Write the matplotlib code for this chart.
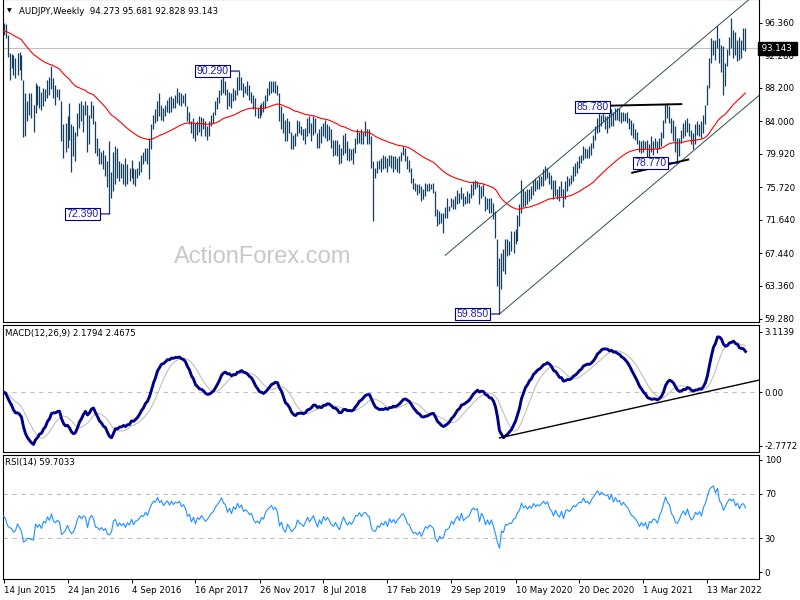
import numpy as np
import matplotlib
matplotlib.use("Agg")
import matplotlib.pyplot as plt
import matplotlib.transforms as mtransforms

# ---------------- data (weekly AUDJPY) ----------------
high = [
    96.3, 96.2, 94.8, 92.5, 92.4, 92.3, 91.9, 92.5, 92.7, 92.3,
    89.2, 87.5, 86.5, 87.5, 87.5, 86.1, 88.8, 88.6, 88.4, 87.7,
    88.2, 88.0, 89.2, 89.6, 90.9, 89.4, 88.6, 88.0, 88.0, 86.5,
    83.6, 83.8, 84.6, 86.3, 83.6, 83.4, 82.7, 85.0, 86.3, 86.5,
    86.1, 86.5, 86.1, 84.8, 86.5, 86.1, 84.0, 81.9, 80.7, 80.2,
    80.4, 79.8, 79.0, 81.5, 77.7, 80.2, 80.9, 80.7, 79.0, 78.8,
    78.6, 79.4, 78.6, 78.2, 79.2, 78.2, 78.0, 78.2, 79.0, 79.8,
    80.2, 80.7, 80.7, 81.9, 83.6,
    84.8, 85.5, 86.5, 87.5, 86.1, 85.7, 86.1, 86.7, 87.1, 87.2,
    86.9, 87.3, 88.2, 87.7, 87.5, 87.3, 87.5, 85.9, 85.2, 84.0,
    84.4, 83.8, 84.0, 84.6, 84.5, 84.4, 84.0, 83.4, 84.0, 84.8,
    85.2, 86.5, 87.1, 87.9, 89.3, 89.5, 89.0, 88.0, 87.7, 87.5,
    88.2, 87.9, 89.6, 90.29, 89.6, 88.8, 88.4, 89.0, 88.6, 87.7,
    87.3, 86.9, 85.7, 86.1, 86.3, 86.5, 87.3, 88.2, 89.0, 89.0,
    89.0, 89.0, 88.6, 87.5, 85.9, 85.0, 84.2, 84.4, 84.0, 82.7,
    82.3, 82.5, 84.2, 84.0, 83.4, 83.0,
    83.2, 84.4, 84.6, 83.8, 84.6, 84.4, 82.5, 83.0, 83.4, 83.8,
    84.2, 83.6, 83.4, 83.0, 81.7, 81.7, 81.7, 81.1, 80.7, 82.3,
    82.5, 81.5, 80.7, 80.5, 80.7, 81.9, 83.0, 82.7, 83.0, 82.7,
    84.0, 83.0, 83.0, 82.1, 79.0, 78.2, 79.0, 79.2, 79.4, 79.8,
    79.6, 79.4, 79.8, 79.8, 79.6, 79.6, 79.4, 79.6, 80.2, 80.9,
    80.7, 79.6, 79.2, 78.2, 76.9, 76.3, 76.1, 76.1, 75.9, 75.5,
    76.3, 76.1, 76.3, 76.1, 76.3, 75.2, 73.0, 72.7, 72.5, 72.5,
    73.2, 74.4, 73.4, 74.4, 74.2,
    74.6, 75.4, 75.0, 75.7, 75.0, 74.6, 75.2, 75.0, 76.1, 76.5,
    76.7, 76.5, 76.1, 75.9, 76.1, 74.6, 74.4, 74.4, 74.4, 73.8,
    72.7, 69.2, 66.9, 67.5, 68.0, 69.2, 69.2, 69.0, 70.2, 70.2,
    70.5, 72.3, 73.6, 76.7, 75.5, 75.2, 75.5, 75.5, 75.9, 76.7,
    76.9, 76.7, 77.1, 77.1, 78.0, 78.4, 78.2, 77.7, 77.3, 76.7,
    76.7, 75.5, 75.9, 76.5, 75.5, 76.5, 77.1, 76.9, 77.3, 78.4,
    78.8, 79.0, 79.6, 79.8, 80.9, 80.7, 80.5, 80.9, 81.3, 82.3,
    83.4, 84.4, 85.0, 84.8, 85.78, 84.6,
    84.7, 85.2, 85.5, 85.2, 85.6, 85.7, 85.7, 85.2, 85.2, 85.0,
    85.2, 84.4, 84.2, 83.8, 83.0, 82.7, 81.7, 81.5, 81.7, 81.5,
    81.7, 81.1, 82.1, 81.5, 81.9, 81.5, 81.9, 82.7, 84.2, 86.2,
    86.3, 85.9, 84.4, 84.2, 83.4, 81.9, 81.9, 82.9, 83.8, 84.2,
    84.4, 83.8, 82.9, 82.5, 83.6, 84.0, 83.6, 84.0, 84.8, 86.1,
    88.6, 91.9, 94.4, 94.2, 94.2, 95.9, 94.4, 93.6, 93.4, 91.3,
    93.0, 94.6, 96.9, 95.4, 95.2, 94.2, 94.6, 94.2, 95.7, 95.681,
]
low = [
    94.8, 94.4, 92.1, 89.2, 90.7, 89.8, 89.4, 89.8, 90.4, 89.2,
    82.0, 82.1, 84.0, 84.8, 84.4, 82.7, 85.0, 86.1, 85.7, 85.4,
    85.9, 86.5, 86.9, 87.3, 88.0, 86.9, 86.1, 87.1, 86.7, 81.5,
    79.4, 80.2, 80.7, 81.7, 77.7, 79.6, 79.0, 82.1, 83.2, 84.0,
    82.7, 84.8, 80.2, 81.1, 84.4, 83.6, 80.0, 79.6, 78.6, 78.6,
    78.0, 77.2, 75.7, 72.39, 74.4, 75.2, 76.1, 76.9, 76.5, 76.9,
    76.1, 75.9, 76.1, 76.5, 76.9, 76.1, 75.9, 76.9, 77.3, 77.7,
    78.6, 79.0, 78.6, 76.8, 80.5,
    83.0, 83.8, 84.0, 84.6, 84.2, 84.0, 84.6, 85.2, 85.0, 85.2,
    85.7, 85.7, 86.3, 86.1, 85.9, 86.3, 85.9, 84.0, 83.6, 82.5,
    81.9, 81.5, 82.3, 82.7, 82.1, 83.0, 82.1, 81.7, 82.1, 83.4,
    83.8, 84.8, 85.5, 86.3, 87.3, 87.5, 87.3, 85.5, 85.9, 85.7,
    86.5, 86.7, 87.3, 87.9, 87.9, 87.1, 87.5, 87.3, 86.7, 86.3,
    85.5, 84.6, 84.4, 84.4, 84.8, 85.2, 85.7, 86.5, 87.3, 87.5,
    87.7, 87.5, 87.3, 84.0, 83.0, 82.5, 81.5, 81.5, 82.5, 80.5,
    80.5, 80.9, 82.1, 82.5, 82.3, 81.6,
    81.1, 82.1, 82.5, 81.5, 82.3, 82.5, 80.7, 80.7, 81.3, 82.1,
    81.9, 81.5, 81.7, 80.7, 79.6, 79.8, 79.6, 78.6, 78.8, 79.8,
    80.0, 79.2, 79.0, 79.2, 78.6, 80.0, 81.1, 81.3, 81.1, 81.1,
    82.1, 81.1, 81.1, 78.2, 71.5, 76.9, 77.5, 78.0, 77.7, 78.0,
    78.2, 77.7, 78.4, 78.2, 77.7, 78.0, 77.7, 77.5, 79.0, 79.8,
    79.0, 78.0, 77.7, 76.3, 75.5, 75.2, 74.8, 75.0, 74.0, 74.2,
    74.6, 75.2, 75.2, 75.5, 75.0, 72.1, 70.9, 71.1, 71.3, 70.0,
    71.9, 71.9, 72.7, 73.2, 73.0,
    73.0, 73.6, 73.8, 74.2, 73.4, 73.6, 73.8, 73.8, 74.4, 74.8,
    75.5, 75.7, 73.6, 74.4, 74.6, 72.7, 73.0, 72.5, 72.5, 71.7,
    69.4, 63.4, 59.85, 63.0, 65.2, 64.8, 67.1, 67.3, 67.7, 67.5,
    68.6, 69.0, 70.9, 72.5, 73.2, 73.4, 73.6, 74.0, 74.2, 74.8,
    75.2, 75.5, 75.5, 75.9, 75.9, 76.7, 76.9, 76.1, 75.5, 74.2,
    74.6, 74.2, 74.0, 74.6, 73.2, 74.2, 75.2, 75.9, 76.1, 76.5,
    77.1, 77.5, 78.2, 78.8, 79.2, 79.4, 79.4, 79.4, 79.8, 80.7,
    81.7, 82.5, 82.7, 83.4, 84.0, 83.0,
    82.5, 83.2, 83.4, 83.4, 84.2, 84.2, 84.0, 83.8, 84.0, 84.0,
    83.8, 83.0, 82.3, 81.9, 81.7, 81.1, 80.2, 80.0, 80.2, 80.5,
    79.2, 79.0, 80.2, 79.8, 80.7, 80.0, 80.5, 80.9, 81.9, 83.8,
    84.4, 83.8, 82.5, 81.5, 80.2, 78.77, 79.6, 81.3, 81.9, 82.1,
    82.7, 82.1, 81.1, 80.5, 81.1, 82.3, 82.1, 81.9, 82.5, 83.6,
    86.1, 88.2, 91.3, 92.3, 91.7, 93.2, 91.3, 90.2, 87.3, 88.4,
    90.9, 92.3, 93.2, 91.9, 92.3, 91.5, 91.7, 91.9, 92.9, 92.828,
]
close = [
    95.3, 94.6, 92.4, 91.8, 91.5, 90.2, 90.5, 91.9, 90.8, 89.5,
    84.5, 84.8, 85.3, 85.2, 84.7, 84.5, 87.9, 86.7, 87.4, 86.0,
    87.8, 87.2, 88.9, 87.8, 89.7, 87.3, 86.8, 87.5, 86.9, 81.8,
    82.2, 82.9, 84.2, 82.0, 80.5, 81.0, 82.4, 84.6, 85.7, 84.6,
    85.6, 85.1, 81.2, 84.2, 85.4, 84.0, 80.4, 80.1, 79.0, 79.7,
    78.4, 78.9, 76.3, 75.8, 76.6, 79.8, 80.3, 77.5, 78.6, 77.4,
    78.1, 76.4, 77.8, 76.9, 78.7, 76.6, 77.6, 77.9, 78.6, 79.4,
    79.1, 80.4, 79.5, 81.4, 83.2,
    84.5, 84.3, 86.2, 85.0, 85.8, 84.6, 85.7, 86.4, 85.4, 86.9,
    86.1, 87.0, 86.8, 87.4, 86.3, 86.9, 86.1, 84.3, 84.8, 82.8,
    83.9, 82.0, 83.6, 83.1, 84.1, 83.3, 82.5, 83.0, 83.8, 84.5,
    84.9, 86.1, 86.8, 87.6, 88.9, 88.0, 87.6, 86.1, 87.2, 86.0,
    87.9, 87.3, 89.2, 88.2, 89.1, 87.6, 88.1, 87.7, 87.0, 87.3,
    85.9, 85.0, 85.4, 84.8, 86.0, 85.6, 87.1, 87.8, 88.3, 88.8,
    88.1, 88.6, 87.6, 84.5, 85.3, 83.0, 82.2, 83.9, 82.8, 81.3,
    81.8, 82.2, 83.9, 82.9, 82.7, 82.0,
    82.9, 84.0, 82.8, 83.5, 84.2, 82.7, 81.2, 82.8, 81.6, 83.5,
    82.3, 83.1, 82.0, 81.0, 80.4, 81.3, 80.0, 79.0, 80.5, 82.0,
    80.6, 79.5, 80.2, 79.6, 80.4, 81.7, 81.6, 82.4, 81.5, 82.3,
    82.5, 81.9, 81.5, 78.6, 77.8, 77.7, 78.7, 78.3, 79.1, 78.6,
    79.3, 78.0, 79.5, 78.6, 79.2, 78.3, 79.0, 79.4, 80.0, 80.2,
    79.3, 78.2, 77.9, 76.6, 75.8, 75.9, 75.3, 75.7, 74.5, 75.2,
    75.9, 75.5, 76.0, 75.7, 75.3, 72.6, 71.5, 72.3, 71.6, 71.7,
    72.8, 72.9, 73.2, 74.1, 73.5,
    74.3, 74.8, 74.0, 75.3, 73.9, 74.3, 74.5, 74.8, 75.8, 76.2,
    75.9, 76.1, 74.0, 75.5, 74.8, 73.1, 74.0, 72.9, 73.8, 72.0,
    69.8, 66.0, 62.0, 66.5, 65.7, 68.3, 68.0, 68.6, 68.5, 69.8,
    70.1, 71.8, 72.8, 75.5, 74.2, 74.9, 74.0, 75.2, 74.6, 76.4,
    75.6, 76.3, 76.0, 76.8, 77.6, 77.0, 77.8, 76.4, 75.8, 74.6,
    76.1, 75.0, 74.4, 76.0, 74.0, 76.2, 76.7, 76.2, 77.0, 78.1,
    77.8, 78.6, 79.3, 79.2, 80.6, 79.8, 80.2, 79.7, 81.0, 81.9,
    83.0, 84.2, 83.5, 84.6, 84.3, 84.1,
    84.3, 83.6, 85.2, 84.0, 85.3, 84.6, 85.0, 84.2, 84.9, 84.4,
    84.1, 83.4, 82.7, 82.5, 82.0, 81.5, 80.6, 81.2, 80.5, 81.0,
    79.6, 80.8, 80.6, 81.2, 81.0, 80.4, 81.6, 82.4, 83.9, 85.9,
    85.0, 84.6, 83.0, 82.4, 81.0, 80.8, 81.6, 82.6, 83.3, 82.5,
    83.9, 82.4, 81.5, 82.0, 83.2, 82.7, 83.4, 82.5, 84.6, 85.8,
    88.4, 91.6, 92.8, 93.6, 92.2, 94.8, 91.8, 91.0, 89.0, 90.8,
    92.6, 94.2, 93.6, 94.5, 92.7, 93.8, 92.2, 94.0, 94.3, 93.143,
]

tick_weeks = [0, 32, 64, 96, 128, 160, 192, 224, 256, 288, 320, 352]
tick_dates = ["14 Jun 2015", "24 Jan 2016", "4 Sep 2016", "16 Apr 2017",
              "26 Nov 2017", "8 Jul 2018", "17 Feb 2019", "29 Sep 2019",
              "10 May 2020", "20 Dec 2020", "1 Aug 2021", "13 Mar 2022"]
price_ticks = [96.36, 92.28, 88.20, 84.00, 79.92, 75.72, 71.64, 67.44, 63.36, 59.28]
macd_ticks = [3.1139, 0.0, -2.7772]
macd_tick_labels = ["3.1139", "0.00", "-2.7772"]
rsi_ticks = [100, 70, 30, 0]

label_weeks = [53, 118, 248, 300, 337]
label_values = [72.39, 90.29, 59.85, 85.78, 78.77]

last_price = 93.143
title_text = "AUDJPY,Weekly  94.273 95.681 92.828 93.143"
macd_text = "MACD(12,26,9) 2.1794 2.4675"
rsi_text = "RSI(14) 59.7033"

# hand drawn lines (week, value)
chan_start_week, chan_start_price, chan_slope, chan_width = 248, 59.85, 0.211, 13.08
chan_upper_start = 220.85
res_line = ([302.9, 338.9], [85.95, 86.15])
sup_line = ([314.35, 342.35], [77.55, 79.2])
macd_line = ([248, 378], [-2.37, 0.62])

# ---------------- indicators ----------------
H = np.array(high)
L = np.array(low)
C = np.array(close)
n = len(C)
idx = np.arange(n)


def ema(x, p):
    a = 2.0 / (p + 1)
    out = np.empty_like(x)
    out[0] = x[0]
    for i in range(1, len(x)):
        out[i] = a * x[i] + (1 - a) * out[i - 1]
    return out


ma55 = ema(C, 55)
macd = ema(C, 12) - ema(C, 26)
signal = np.array([macd[max(0, i - 8):i + 1].mean() for i in range(n)])
d = np.diff(C)
gain = np.clip(d, 0, None)
loss = np.clip(-d, 0, None)
rsi = np.full(n, np.nan)
# Wilder smoothing, started from a neutral state (no earlier history available)
ag = al = np.abs(d[:14]).mean() / 2
for i in range(1, n):
    ag = (ag * 13 + gain[i - 1]) / 14
    al = (al * 13 + loss[i - 1]) / 14
    rsi[i] = 100.0 if al == 0 else 100 - 100 / (1 + ag / al)
rsi[0] = 50.0

# ---------------- figure ----------------
W, HH = 800, 600
fig = plt.figure(figsize=(8, 6), dpi=100)
fig.patch.set_facecolor("white")
LPX, RPX = 2.7, 759.3
X0 = -0.4                      # week 0 sits on a pixel centre
X1 = X0 + (RPX - LPX) / 2.0


def rect(top, bot):
    return [LPX / W, 1 - bot / HH, (RPX - LPX) / W, (bot - top) / HH]


ax1 = fig.add_axes(rect(-1, 322))
ax2 = fig.add_axes(rect(324.5, 451.5))
ax3 = fig.add_axes(rect(454.5, 578.5))

FS = 6.2
for ax in (ax1, ax2, ax3):
    ax.set_xlim(X0, X1)
    for s in ax.spines.values():
        s.set_color("black")
        s.set_linewidth(0.8)
    ax.yaxis.tick_right()
    ax.tick_params(axis="y", which="both", left=False, right=True, length=2.5,
                   width=0.7, pad=1.5, labelsize=FS, direction="out")
    ax.tick_params(axis="x", bottom=False, labelbottom=False)
    ax.set_facecolor("white")

# main panel
ax1.set_ylim(96.36 - (323 - 22.7) / 8.005, 96.36 + 23.7 / 8.005)
ax1.set_yticks(price_ticks)
ax1.set_yticklabels([f"{v:.3f}" for v in price_ticks])
ax1.axhline(last_price, color="#c0c0c0", lw=0.8, zorder=1)
ax1.vlines(idx, L, H, color="#163f5e", lw=0.9, zorder=3)
ax1.plot(idx, ma55, color="#ff0000", lw=0.8, zorder=4)

cx_lo = np.array([chan_start_week, X1])
ax1.plot(cx_lo, chan_start_price + chan_slope * (cx_lo - chan_start_week),
         color="#2f4f4f", lw=0.7, zorder=2)
cx_up = np.array([chan_upper_start, X1])
ax1.plot(cx_up, chan_start_price + chan_width + chan_slope * (cx_up - chan_start_week),
         color="#2f4f4f", lw=0.7, zorder=2)
ax1.plot(res_line[0], res_line[1], color="black", lw=1.4, zorder=5)
ax1.plot(sup_line[0], sup_line[1], color="black", lw=1.4, zorder=5)

for wk, val in zip(label_weeks, label_values):
    right_side = val == 85.78
    kw = {}
    if not right_side:
        kw["arrowprops"] = dict(arrowstyle="-", color="#000080", lw=0.8,
                                shrinkA=0, shrinkB=0)
    ax1.annotate(f"{val:.3f}", xy=(wk, val),
                 xytext=(5 if right_side else -11, 0), textcoords="offset pixels",
                 ha="right", va="center", fontsize=7.6, color="#1e1ea8",
                 family="Liberation Sans",
                 bbox=dict(boxstyle="square,pad=0.12", fc="white", ec="#000080", lw=0.8),
                 zorder=6, **kw)

trans1 = mtransforms.blended_transform_factory(ax1.transAxes, ax1.transData)
ax1.text(1.0, last_price, " 93.143 ", transform=trans1, ha="left", va="center",
         fontsize=FS, color="white", clip_on=False, zorder=10,
         bbox=dict(boxstyle="square,pad=0.2", fc="black", ec="black"))

fig.text(263 / W, 1 - 257 / HH, "ActionForex.com", ha="center", va="center",
         fontsize=17, color="#c8c8c8", family="Liberation Sans", zorder=0)
fig.text(6.5 / W, 1 - 11 / HH, "\u25BC", ha="left", va="center", fontsize=4.5,
         color="black")
fig.text(19 / W, 1 - 11 / HH, title_text, ha="left", va="center", fontsize=FS,
         color="black")

# MACD panel
ax2.set_ylim((392 - 451.5) / 19.37, (392 - 324.5) / 19.37)
ax2.set_yticks(macd_ticks)
ax2.set_yticklabels(macd_tick_labels)
ax2.axhline(0, color="#c0c0c0", lw=0.8, ls=(0, (4, 4)), zorder=1)
ax2.plot(idx, signal, color="#c0c0c0", lw=0.8, zorder=2)
ax2.plot(idx, macd, color="#00008b", lw=2.1, zorder=3)
ax2.plot(macd_line[0], macd_line[1], color="black", lw=1.0, zorder=4)
fig.text(5 / W, 1 - 333 / HH, macd_text, ha="left", va="center", fontsize=FS)

# RSI panel
ax3.set_ylim((572 - 578.5) / 1.12, (572 - 454.5) / 1.12)
ax3.set_yticks(rsi_ticks)
ax3.set_yticklabels([str(v) for v in rsi_ticks])
ax3.axhline(70, color="#c0c0c0", lw=0.8, ls=(0, (4, 4)), zorder=1)
ax3.axhline(30, color="#c0c0c0", lw=0.8, ls=(0, (4, 4)), zorder=1)
ax3.plot(idx, rsi, color="#1e90ff", lw=0.8, zorder=3)
fig.text(5 / W, 1 - 463 / HH, rsi_text, ha="left", va="center", fontsize=FS)

ax3.set_xticks(tick_weeks)
ax3.set_xticklabels(tick_dates)
ax3.tick_params(axis="x", bottom=True, labelbottom=True, length=3, width=0.7,
                pad=2.5, labelsize=FS, direction="out")
for lab in ax3.get_xticklabels():
    lab.set_horizontalalignment("left")

fig.savefig("out.png", dpi=100, facecolor="white")
